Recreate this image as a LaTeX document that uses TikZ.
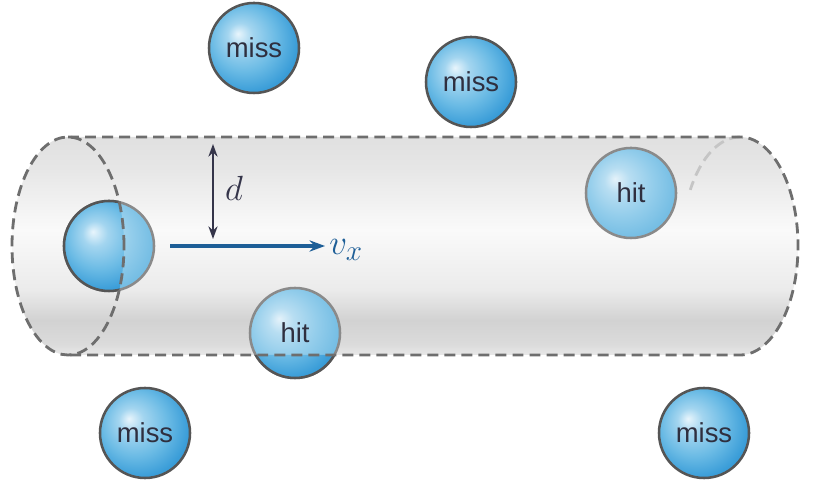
\documentclass[tikz,border=0pt]{standalone}
\usepackage{fontspec}
\setmainfont{Liberation Sans}
\usepackage{tikz}
\usetikzlibrary{arrows.meta}
\definecolor{ballhi}{HTML}{E8F5FC}
\definecolor{ballmid}{HTML}{6BBBE5}
\definecolor{balledge}{HTML}{3A9DD8}
\definecolor{balldeep}{HTML}{2589CA}
\definecolor{ballhiin}{HTML}{E4F2FA}
\definecolor{ballmidin}{HTML}{93CDEB}
\definecolor{balledgein}{HTML}{76BEE4}
\definecolor{balldeepin}{HTML}{6AB5DE}
\definecolor{ballrim}{HTML}{555555}
\definecolor{ballrimin}{HTML}{8A8A8A}
\definecolor{rimgray}{HTML}{6E6E6E}
\definecolor{inkdark}{HTML}{2F2F3F}
\definecolor{darrowcol}{HTML}{35354A}
\definecolor{vxcol}{HTML}{1D5E97}
\definecolor{tubeA}{HTML}{E8E8E8}
\definecolor{tubeB}{HTML}{DBDBDB}
\definecolor{tubeC}{HTML}{D2D2D2}
\definecolor{tubeD}{HTML}{EBEBEB}
\definecolor{tubeE}{HTML}{FAFAFA}
\definecolor{tubeF}{HTML}{E6E6E6}
\definecolor{tubeG}{HTML}{E0E0E0}
\pgfdeclareradialshading{ballout}{\pgfpoint{-9bp}{8bp}}{color(0bp)=(ballhi); color(7bp)=(ballhi!45!ballmid); color(18bp)=(ballmid); color(28bp)=(balledge); color(38bp)=(balldeep); color(50bp)=(balldeep)}
\pgfdeclareradialshading{ballin}{\pgfpoint{-9bp}{8bp}}{color(0bp)=(ballhiin); color(7bp)=(ballhiin!45!ballmidin); color(18bp)=(ballmidin); color(28bp)=(balledgein); color(38bp)=(balldeepin); color(50bp)=(balldeepin)}
\pgfdeclareverticalshading{tube}{100bp}{color(0bp)=(tubeA); color(25bp)=(tubeA); color(27.5bp)=(tubeB); color(33bp)=(tubeC); color(40bp)=(tubeD); color(53.7bp)=(tubeE); color(68bp)=(tubeF); color(75bp)=(tubeG); color(100bp)=(tubeG)}
\begin{document}
\begin{tikzpicture}[x=0.025cm, y=0.025cm,
    ballpaint/.style={shade, shading=ballout, draw=ballrim, line width=1.8pt},
    ball/.style={circle, minimum size=2.25cm, inner sep=0pt, ballpaint, text=inkdark, font=\fontsize{19.5}{22}\selectfont},
    ballin/.style={ball, shading=ballin, draw=ballrimin},
    rim/.style={draw=rimgray, line width=2pt, dash pattern=on 7.8pt off 4.3pt},
    backrim/.style={rim, draw=rimgray!40},
    darrow/.style={draw=darrowcol, line width=1.7pt, {Stealth[length=9pt,width=6.5pt]}-{Stealth[length=9pt,width=6.5pt]}},
    vxarrow/.style={draw=vxcol, line width=2.2pt, -{Stealth[length=11pt,width=8pt]}},
    mathlabel/.style={inner sep=0pt, font=\fontsize{29}{32}\selectfont}]
\useasboundingbox (0,0) rectangle (819,490);
% tube body
\shade[shading=tube] (68,353) -- (740,353) arc[start angle=90, end angle=-90, x radius=58, y radius=109]
    -- (68,135) arc[start angle=270, end angle=90, x radius=56, y radius=109] -- cycle;
% far rim, seen through the tube
\draw[backrim] (740,353) arc[start angle=90, end angle=149, x radius=58, y radius=109];
% balls inside the tube
\node[ballin] (lball) at (109,244) {};
\node[ballin] (hitMid) at (295,157) {hit};
\node[ballin] (hitRight) at (631,297) {hit};
% parts that stick out of the tube
\begin{scope}[even odd rule]
  \clip (0,0) rectangle (819,490)
    (68,353) -- (740,353) arc[start angle=90, end angle=-90, x radius=58, y radius=109]
    -- (68,135) arc[start angle=-90, end angle=90, x radius=56, y radius=109] -- cycle;
  \path[ballpaint] (lball.center) circle[radius=45];
  \path[ballpaint] (hitMid.center) circle[radius=45];
\end{scope}
% rims
\draw[rim] (68,244) ellipse[x radius=56, y radius=109];
\draw[rim] (68,353) -- (740,353) arc[start angle=90, end angle=-90, x radius=58, y radius=109] -- (68,135);
% balls outside
\node[ball] (missTL) at (254,442) {miss};
\node[ball] (missTR) at (471,408) {miss};
\node[ball] (missBL) at (145,57) {miss};
\node[ball] (missBR) at (704,57) {miss};
% distance and velocity
\coordinate (dtop) at (213,346);
\coordinate (dbot) at (213,251);
\draw[darrow] (dtop) -- (dbot);
\node[mathlabel, text=darrowcol] (dlabel) at (234,302) {$d$};
\coordinate (vstart) at (170,244);
\coordinate (vend) at (325,244);
\draw[vxarrow] (vstart) -- (vend);
\node[mathlabel, text=vxcol, anchor=base west] (vxlabel) at (329,235) {$v_x$};
\end{tikzpicture}
\end{document}
